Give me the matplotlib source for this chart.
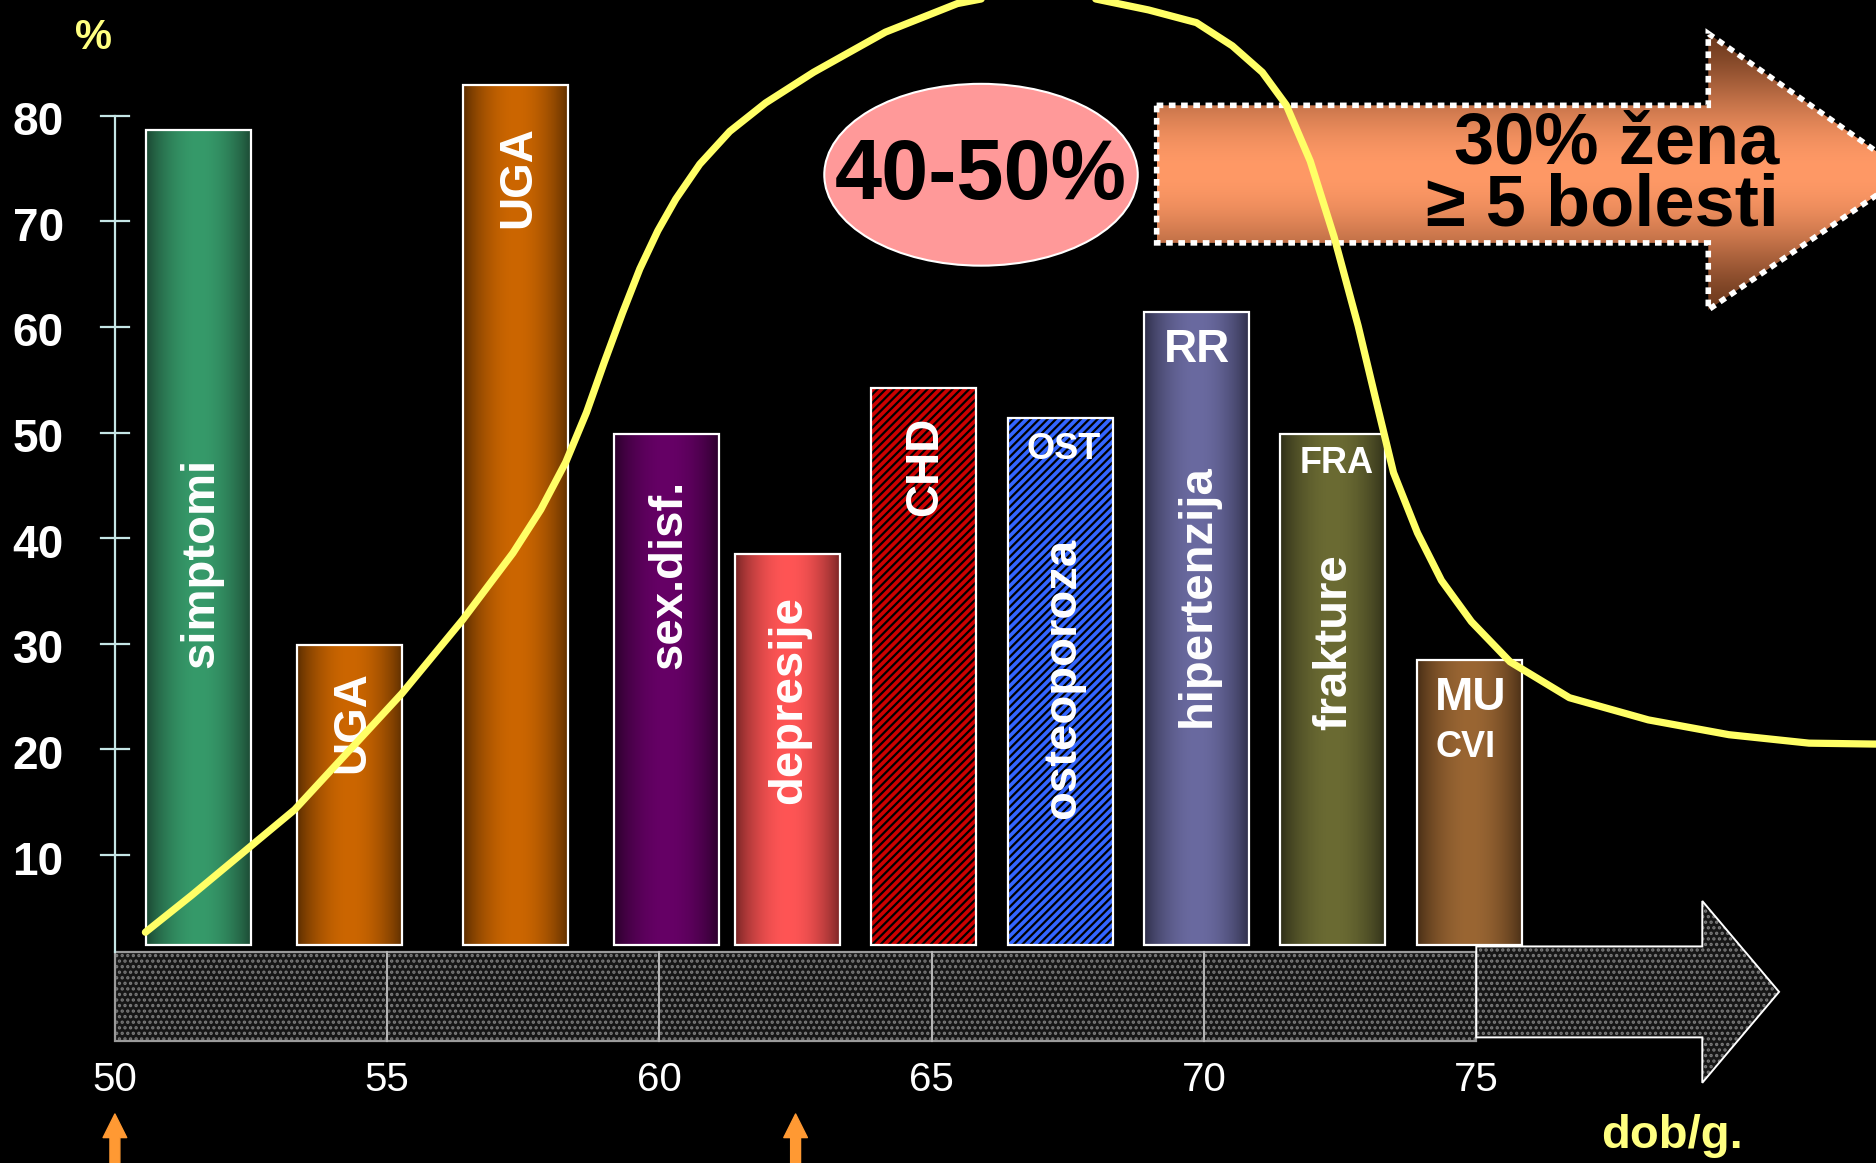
import numpy as np
import matplotlib
matplotlib.use('Agg')
import matplotlib.pyplot as plt
from matplotlib.patches import Rectangle, Polygon, Ellipse
from matplotlib import colors as mcolors

plt.rcParams['font.family'] = ['Liberation Sans', 'DejaVu Sans']
plt.rcParams['hatch.linewidth'] = 1.6

#------------------------------------------------------------------------------
# values
bar_names = ['simptomi', 'UGA', 'UGA', 'sex.disf.', 'depresije', 'CHD',
             'osteoporoza', 'hipertenzija', 'frakture', 'MU CVI']
bar_age = [51.54, 54.31, 57.36, 60.13, 62.35, 64.85, 67.36, 69.86, 72.36, 74.87]
bar_pct = [78.6, 29.9, 82.9, 49.9, 38.5, 54.2, 51.4, 61.4, 49.9, 28.5]
bar_base = 1.5

curve_age = [50.56, 51.41, 52.39, 53.30, 54.50, 55.27, 56.39, 57.31, 57.82, 58.28,
             58.66, 58.99, 59.32, 59.64, 59.97, 60.30, 60.74, 61.29, 61.95, 62.83,
             64.15, 65.47, 66.78, 67.95, 68.98, 69.86, 70.52, 71.07, 71.51, 71.95,
             72.39, 72.83, 73.16, 73.48, 73.92, 74.36, 74.91, 75.62, 76.71, 78.16,
             79.64, 81.11, 82.50]
curve_pct = [2.7, 6.2, 10.4, 14.3, 21.0, 25.3, 32.3, 38.6, 42.7, 47.2,
             51.9, 56.7, 61.3, 65.5, 69.1, 72.1, 75.4, 78.5, 81.2, 84.1,
             87.9, 90.6, 91.9, 91.1, 90.0, 88.8, 86.6, 84.1, 81.0, 75.7,
             68.5, 60.1, 53.0, 46.2, 40.5, 36.0, 32.1, 28.3, 24.9, 22.8,
             21.4, 20.6, 20.5]

age_ticks = [50, 55, 60, 65, 70, 75]
pct_ticks = [10, 20, 30, 40, 50, 60, 70, 80]
marked_ages = [50, 62.5]

#------------------------------------------------------------------------------
fig = plt.figure(figsize=(18.76, 11.63), dpi=100, facecolor='black')
ax = fig.add_axes([0, 0, 1, 1])
ax.set_facecolor('black')
XLIM = (47.89, 82.34)
YLIM = (-19.14, 90.94)


def hgrad(edge, center, n=80, power=0.8):
    t = np.linspace(0, 1, n)
    prof = np.sin(np.pi * t) ** power
    e = np.array(mcolors.to_rgb(edge))
    c = np.array(mcolors.to_rgb(center))
    return (e[None, :] + (c - e)[None, :] * prof[:, None])[None, :, :]


bar_style = [('#1b4631', '#369a6a', None),
             ('#5a2d00', '#cc6600', None),
             ('#5a2d00', '#cc6600', None),
             ('#2a002a', '#660066', None),
             ('#752424', '#ff5555', None),
             ('#cc0000', '#cc0000', '/' * 4),
             ('#3366ff', '#3366ff', '/' * 4),
             ('#2e2e48', '#6a6aa0', None),
             ('#2e2e18', '#6b6b33', None),
             ('#472d15', '#9a6633', None)]

w = 1.93
for xc, top, (ec, cc, hatch) in zip(bar_age, bar_pct, bar_style):
    x0 = xc - w / 2
    if hatch:
        ax.add_patch(Rectangle((x0, bar_base), w, top - bar_base, facecolor=cc,
                               edgecolor='black', linewidth=0, hatch=hatch, zorder=2))
    else:
        ax.imshow(hgrad(ec, cc), extent=(x0, x0 + w, bar_base, top), aspect='auto',
                  interpolation='bilinear', zorder=2)
    ax.add_patch(Rectangle((x0, bar_base), w, top - bar_base, fill=False,
                           edgecolor='white', linewidth=1.6, zorder=2.5))

# bar captions
captions = [('simptomi', 51.58, 37.7, 90, 34), ('UGA', 54.35, 22.6, 90, 33),
            ('UGA', 57.40, 74.2, 90, 33), ('sex.disf.', 60.19, 36.6, 90, 34),
            ('depresije', 62.39, 24.7, 90, 34), ('CHD', 64.87, 46.8, 90, 33),
            ('OST', 67.42, 48.4, 0, 26), ('osteoporoza', 67.42, 26.7, 90, 34),
            ('RR', 69.88, 57.8, 0, 33), ('hipertenzija', 69.88, 34.6, 90, 34),
            ('FRA', 72.43, 47.1, 0, 26), ('frakture', 72.39, 30.2, 90, 34),
            ('MU', 74.89, 24.9, 0, 33), ('CVI', 74.80, 20.2, 0, 26)]
for s, x, y, rot, fs in captions:
    ax.text(x, y, s, rotation=rot, ha='center', va='center', color='white',
            fontsize=fs, fontweight='bold', zorder=3)

# y axis
ax.plot([50, 50], [0.8, 80], color='#c5e6e6', lw=1.6, zorder=2)
for t in pct_ticks:
    ax.plot([49.74, 50.26], [t, t], color='#c5e6e6', lw=1.6, zorder=2)
    ax.text(48.59, t - 0.7, str(t), ha='center', va='center', color='white',
            fontsize=33, fontweight='bold')
ax.text(49.6, 87.3, '%', ha='center', va='center', color='#ffff80',
        fontsize=30, fontweight='bold')

# age band along the bottom
ax.add_patch(Rectangle((50, -7.59), 25, 8.38, facecolor='#161616',
                       edgecolor='#7a7a7a', linewidth=0, hatch='...', zorder=1))
ax.add_patch(Rectangle((50, -7.59), 25, 8.38, fill=False,
                       edgecolor='#9a9a9a', linewidth=1.6, zorder=1.2))
for a in age_ticks[1:-1]:
    ax.plot([a, a], [-7.59, 0.79], color='#b4b4b4', lw=1.5, zorder=1.2)
arrow_pts = [(75, 1.36), (79.15, 1.36), (79.15, 5.66), (80.56, -2.94),
             (79.15, -11.55), (79.15, -7.25), (75, -7.25)]
ax.add_patch(Polygon(arrow_pts, closed=True, facecolor='#161616', edgecolor='#7a7a7a',
                     linewidth=0, hatch='...', zorder=1))
ax.add_patch(Polygon(arrow_pts, closed=True, fill=False, edgecolor='white',
                     linewidth=1.4, zorder=1.3))

for a in age_ticks:
    ax.text(a, -11.3, str(a), ha='center', va='center', color='white', fontsize=29)
for a in marked_ages:
    ax.annotate('', xy=(a, -14.5), xytext=(a, -20.5),
                arrowprops=dict(arrowstyle='simple,head_length=1.0,head_width=1.0,tail_width=0.42',
                                color='#ff9933', mutation_scale=17, shrinkA=0, shrinkB=0),
                annotation_clip=False)
ax.text(78.6, -16.6, 'dob/g.', ha='center', va='center', color='#ffff80',
        fontsize=34, fontweight='bold')

# big orange arrow
big = [(69.13, 80.97), (79.26, 80.97), (79.26, 87.77), (82.93, 74.5),
       (79.26, 61.61), (79.26, 67.95), (69.13, 67.95)]
big_poly = Polygon(big, closed=True, facecolor='none', edgecolor='none', zorder=2)
ax.add_patch(big_poly)
tt = np.linspace(0, 1, 200)
prof = np.sin(np.pi * tt) ** 1.5
dark = np.array(mcolors.to_rgb('#6e3a1e'))
light = np.array(mcolors.to_rgb('#ff9966'))
vgrad = (dark[None, :] + (light - dark)[None, :] * prof[:, None])[:, None, :]
im = ax.imshow(vgrad, extent=(69.13, 82.93, 61.61, 87.77), origin='lower',
               aspect='auto', interpolation='bilinear', zorder=2)
im.set_clip_path(big_poly)
ax.add_patch(Polygon(big, closed=True, fill=False, edgecolor='white', linewidth=4.0,
                     linestyle=(0, (1.2, 1.0)), zorder=2.2))
ax.text(80.56, 77.3, '30% žena', ha='right', va='center', color='black',
        fontsize=52, fontweight='bold', zorder=3)
ax.text(80.56, 71.4, '≥ 5 bolesti', ha='right', va='center', color='black',
        fontsize=52, fontweight='bold', zorder=3)

# ellipse
ax.add_patch(Ellipse((65.905, 74.4), 5.756, 17.21, facecolor='#ff9999',
                     edgecolor='white', linewidth=1.5, zorder=3))
ax.text(65.905, 74.2, '40-50%', ha='center', va='center', color='black',
        fontsize=61, fontweight='bold', zorder=3.5)

# yellow curve
ax.plot(curve_age, curve_pct, color='#ffff66', lw=5.2, solid_joinstyle='round',
        solid_capstyle='round', zorder=4)

ax.set_xlim(*XLIM)
ax.set_ylim(*YLIM)
ax.axis('off')

plt.savefig('out.png', dpi=100, facecolor='black')
